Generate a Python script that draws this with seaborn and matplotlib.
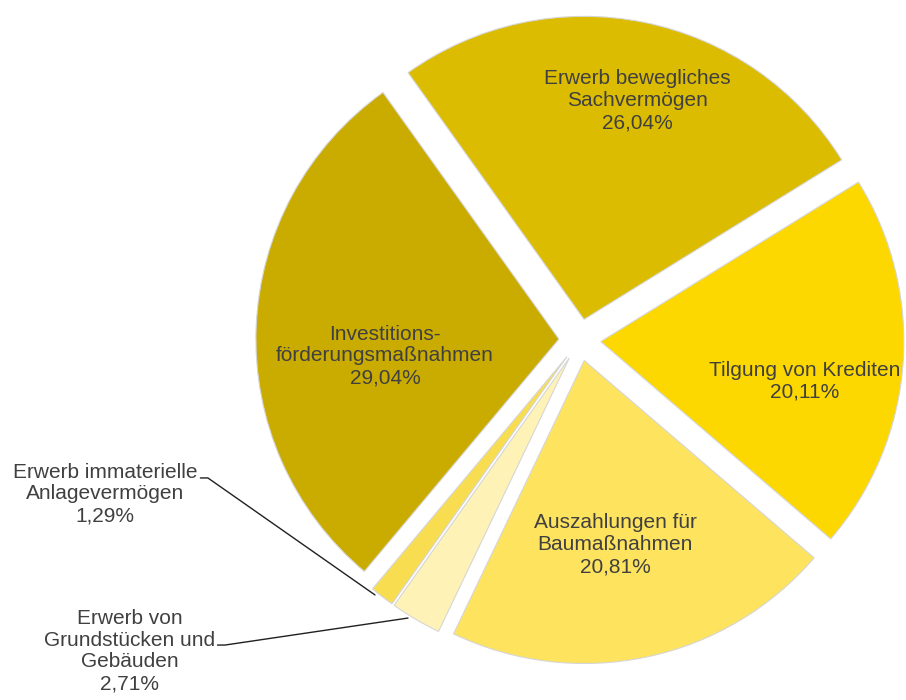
import matplotlib
matplotlib.use("Agg")
import matplotlib.pyplot as plt
import seaborn as sns

# Daten (Anteile in %)
kategorien = ["Erwerb bewegliches\nSachvermögen",
              "Tilgung von Krediten",
              "Auszahlungen für\nBaumaßnahmen",
              "Erwerb von\nGrundstücken und\nGebäuden",
              "Erwerb immaterielle\nAnlagevermögen",
              "Investitions-\nförderungsmaßnahmen"]
anteile = [26.04, 20.11, 20.81, 2.71, 1.29, 29.04]
farben = ["#DBBC00", "#FDD800", "#FDE35E", "#FFF2B6", "#F8DD50", "#CAAC00"]

sns.set_theme(style="white")
plt.rcParams["font.family"] = ["Liberation Sans", "DejaVu Sans"]

fig = plt.figure(figsize=(9.06, 7.0), dpi=100)
ax = fig.add_axes([0, 0, 1, 1])

wedges, _ = ax.pie(anteile, colors=farben, startangle=125.5, counterclock=False,
                   explode=[0.07] * len(anteile), radius=1.01,
                   wedgeprops=dict(edgecolor="#d6d6d6", linewidth=0.8))

ax.set_xlim(-1.933, 1.087)
ax.set_ylim(-1.2, 1.133)
ax.set_aspect("equal")
ax.axis("off")

def fmt(v):
    return f"{v:.2f}".replace(".", ",") + "%"

schrift = dict(fontsize=15, color="#404040", linespacing=1.19, ha="center", va="center")

# Beschriftungen in den Segmenten
innen_pos = {0: (0.193, 0.797), 1: (0.75, -0.137), 2: (0.117, -0.683), 5: (-0.65, -0.053)}
for i, (x, y) in innen_pos.items():
    ax.text(x, y, kategorien[i] + "\n" + fmt(anteile[i]), **schrift)

# Beschriftungen außen mit Führungslinien
aussen = {
    4: dict(text=(-1.583, -0.513), start=(-1.265, -0.46), stub=(-1.24, -0.46), ziel=(-0.683, -0.85)),
    3: dict(text=(-1.5, -1.037), start=(-1.208, -1.017), stub=(-1.183, -1.017), ziel=(-0.573, -0.927)),
}
for i, d in aussen.items():
    ax.text(*d["text"], kategorien[i] + "\n" + fmt(anteile[i]), **schrift)
    xs = [d["start"][0], d["stub"][0], d["ziel"][0]]
    ys = [d["start"][1], d["stub"][1], d["ziel"][1]]
    ax.plot(xs, ys, color="#202020", linewidth=1.0)

fig.savefig("out.png", dpi=100)
